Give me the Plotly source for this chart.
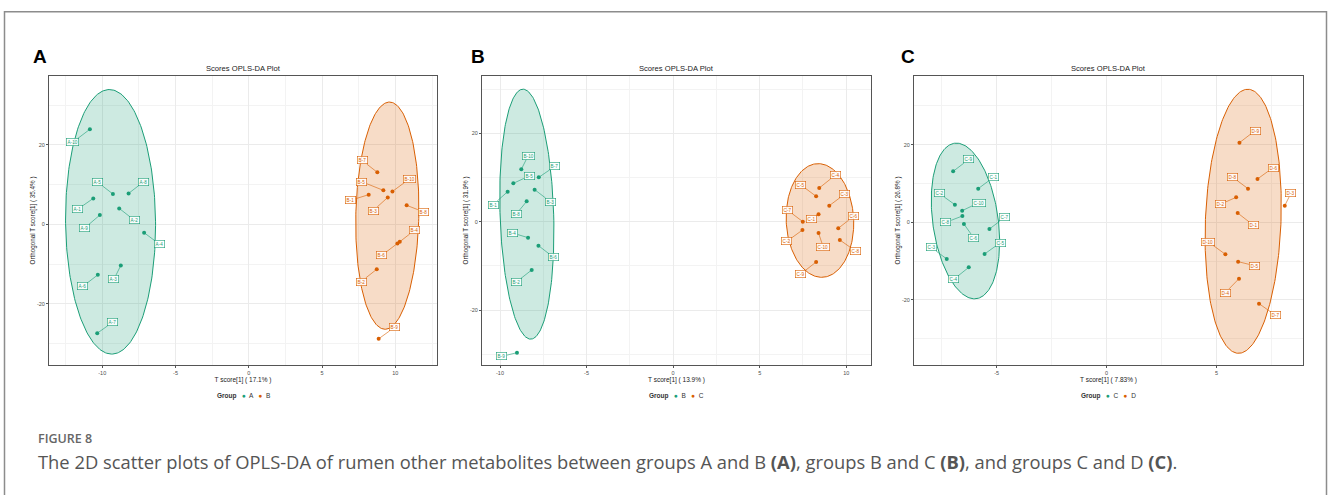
import numpy as np
import plotly.graph_objects as go

GREEN = "#1B9E77"
ORANGE = "#D95F02"
GREEN_FILL = "rgba(27,158,119,0.22)"
ORANGE_FILL = "rgba(217,95,2,0.22)"

# ---------------- data ----------------
# Panel A : groups A and B
pA_g1_names = ["A-1", "A-2", "A-3", "A-4", "A-5", "A-6", "A-7", "A-8", "A-9", "A-10"]
pA_g1_x = [-10.61, -8.84, -8.73, -7.14, -9.27, -10.30, -10.34, -8.20, -10.16, -10.84]
pA_g1_y = [6.55, 4.03, -10.34, -2.10, 7.65, -12.70, -27.40, 7.80, 2.35, 23.95]
pA_g1_lx = [-11.68, -7.82, -9.20, -6.07, -10.30, -11.32, -9.27, -7.16, -11.20, -12.00]
pA_g1_ly = [3.78, 1.09, -13.80, -5.04, 10.60, -15.60, -24.60, 10.76, -0.92, 20.70]

pA_g2_names = ["B-1", "B-2", "B-3", "B-4", "B-5", "B-6", "B-7", "B-8", "B-9", "B-10"]
pA_g2_x = [8.18, 8.73, 9.48, 10.30, 9.18, 10.14, 8.77, 10.77, 8.86, 9.80]
pA_g2_y = [7.48, -11.30, 6.80, -4.37, 8.57, -4.80, 13.10, 4.80, -28.80, 8.30]
pA_g2_lx = [6.93, 7.66, 8.48, 11.30, 7.70, 9.07, 7.73, 11.89, 9.95, 10.98]
pA_g2_ly = [6.05, -14.40, 3.45, -1.50, 10.76, -7.80, 16.10, 3.20, -25.90, 11.50]

# Panel B : groups B and C
pB_g1_names = ["B-1", "B-2", "B-3", "B-4", "B-5", "B-6", "B-7", "B-8", "B-9", "B-10"]
pB_g1_x = [-9.56, -8.17, -8.00, -8.38, -9.23, -7.78, -7.76, -8.46, -9.02, -8.77]
pB_g1_y = [6.79, -10.94, 7.25, -3.62, 8.68, -5.43, 10.04, 4.60, -29.66, 11.85]
pB_g1_lx = [-10.40, -9.07, -7.09, -9.27, -8.32, -6.90, -6.84, -9.07, -9.90, -8.38]
pB_g1_ly = [3.85, -13.70, 4.53, -2.57, 10.34, -8.08, 12.50, 1.66, -30.50, 14.87]

pB_g2_names = ["C-1", "C-2", "C-3", "C-4", "C-5", "C-6", "C-7", "C-8", "C-9", "C-10"]
pB_g2_x = [8.40, 7.47, 9.02, 8.44, 8.26, 9.54, 7.49, 9.63, 8.26, 8.40]
pB_g2_y = [1.66, -1.90, 3.62, 7.62, 5.74, -1.50, 0.00, -4.15, -9.13, -2.57]
pB_g2_lx = [8.00, 6.57, 9.92, 9.36, 7.36, 10.42, 6.60, 10.56, 7.36, 8.67]
pB_g2_ly = [0.60, -4.45, 6.26, 10.50, 8.38, 1.20, 2.64, -6.70, -11.90, -5.74]

# Panel C : groups C and D
pC_g1_names = ["C-1", "C-2", "C-3", "C-4", "C-5", "C-6", "C-7", "C-8", "C-9", "C-10"]
pC_g1_x = [-5.84, -6.90, -7.27, -6.27, -5.55, -6.49, -5.33, -6.56, -6.98, -6.57]
pC_g1_y = [8.67, 4.55, -9.44, -11.59, -8.15, -0.43, -1.72, 1.63, 13.13, 3.00]
pC_g1_lx = [-5.13, -7.62, -7.98, -6.95, -4.83, -6.05, -4.63, -7.31, -6.27, -5.81]
pC_g1_ly = [11.67, 7.47, -6.44, -14.68, -5.24, -3.95, 1.29, 0.00, 16.20, 5.06]

pC_g2_names = ["D-1", "D-2", "D-3", "D-4", "D-5", "D-6", "D-7", "D-8", "D-9", "D-10"]
pC_g2_x = [5.96, 5.89, 8.10, 6.02, 5.98, 6.86, 6.93, 6.43, 6.04, 5.40]
pC_g2_y = [2.40, 6.44, 4.29, -14.50, -10.13, 11.16, -20.94, 8.67, 20.50, -8.24]
pC_g2_lx = [6.66, 5.17, 8.38, 5.40, 6.72, 7.57, 7.68, 5.72, 6.75, 4.61]
pC_g2_ly = [-0.69, 4.64, 7.47, -18.10, -11.16, 14.08, -23.95, 11.67, 23.60, -4.98]

# confidence ellipses: centre x, centre y, half-width, half-height, shear
ellA_1 = [-9.43, 0.65, 3.07, 33.3, -0.08]
ellA_2 = [9.45, 2.20, 2.15, 28.6, 0.15]
ellB_1 = [-8.45, 1.70, 1.55, 28.3, -0.22]
ellB_2 = [8.48, 0.27, 1.95, 12.87, -0.10]
ellC_1 = [-6.42, 0.35, 1.50, 20.05, -0.41]
ellC_2 = [6.21, 0.27, 1.72, 34.0, 0.21]

x_titles = ["T score[1] ( 17.1% )", "T score[1] ( 13.9% )", "T score[1] ( 7.83% )"]
y_titles = ["Orthogonal T score[1] ( 35.4% )", "Orthogonal T score[1] ( 31.9% )",
            "Orthogonal T score[1] ( 26.8% )"]
group_pairs = [("A", "B"), ("B", "C"), ("C", "D")]
panel_letters = ["A", "B", "C"]

xtick_vals = [[-10, -5, 0, 5, 10], [-10, -5, 0, 5, 10], [-5, 0, 5]]
xtick_text = [["-10", "-5", "0", "5", "10"], ["-10", "-5", "0", "5", "10"], ["-5", "0", "5"]]
ytick_vals = [-20, 0, 20]
ytick_text = ["-20", "0", "20"]

# ---------------- layout geometry ----------------
W, H = 1328, 495
x_ranges = [[-13.63, 12.84], [-11.04, 11.43], [-8.76, 8.93]]
y_ranges = [[-35.4, 37.36], [-32.45, 32.98], [-36.74, 37.68]]
px_left = [49, 482, 914]
px_right = [437, 871, 1303]
letter_x = [32, 470, 900]
py_top, py_bot = 76, 365


def fx(px):
    return px / W


def fy(py):
    return 1 - py / H


fig = go.Figure()
annotations = []
shapes = []

panels = [
    (pA_g1_names, pA_g1_x, pA_g1_y, pA_g1_lx, pA_g1_ly,
     pA_g2_names, pA_g2_x, pA_g2_y, pA_g2_lx, pA_g2_ly, ellA_1, ellA_2),
    (pB_g1_names, pB_g1_x, pB_g1_y, pB_g1_lx, pB_g1_ly,
     pB_g2_names, pB_g2_x, pB_g2_y, pB_g2_lx, pB_g2_ly, ellB_1, ellB_2),
    (pC_g1_names, pC_g1_x, pC_g1_y, pC_g1_lx, pC_g1_ly,
     pC_g2_names, pC_g2_x, pC_g2_y, pC_g2_lx, pC_g2_ly, ellC_1, ellC_2),
]

t = np.linspace(0, 2 * np.pi, 240)

for i, p in enumerate(panels):
    (n1, x1, y1, lx1, ly1, n2, x2, y2, lx2, ly2, e1, e2) = p
    xa = "x" if i == 0 else f"x{i+1}"
    ya = "y" if i == 0 else f"y{i+1}"
    for ell, col, fill in ((e1, GREEN, GREEN_FILL), (e2, ORANGE, ORANGE_FILL)):
        cx, cy, rx, ry, sx = ell
        ex = cx + rx * np.cos(t) + sx * np.sin(t)
        ey = cy + ry * np.sin(t)
        fig.add_trace(go.Scatter(x=ex, y=ey, mode="lines", fill="toself",
                                 fillcolor=fill, line=dict(color=col, width=1),
                                 hoverinfo="skip", showlegend=False,
                                 xaxis=xa, yaxis=ya))
    g1, g2 = group_pairs[i]
    for names, xs, ys, lxs, lys, col, g in ((n1, x1, y1, lx1, ly1, GREEN, g1),
                                            (n2, x2, y2, lx2, ly2, ORANGE, g2)):
        fig.add_trace(go.Scatter(x=xs, y=ys, mode="markers", name=g,
                                 marker=dict(color=col, size=4),
                                 showlegend=False, xaxis=xa, yaxis=ya))
        for nm, px_, py_, lx, ly in zip(names, xs, ys, lxs, lys):
            annotations.append(dict(
                x=px_, y=py_, ax=lx, ay=ly, xref=xa, yref=ya, axref=xa, ayref=ya,
                text=nm, showarrow=True, arrowhead=0, arrowwidth=0.6,
                arrowcolor=col, standoff=0, startstandoff=0,
                font=dict(size=4.6, color=col, family="Liberation Sans"),
                bgcolor="rgba(255,255,255,0.85)", bordercolor=col,
                borderwidth=0.6, borderpad=1))

    x0p, x1p = fx(px_left[i]), fx(px_right[i])
    cxp = (x0p + x1p) / 2
    axis_common = dict(showline=True, mirror=True, linecolor="#555555", linewidth=1,
                       showgrid=True, gridcolor="#EBEBEB", gridwidth=1,
                       zeroline=False, ticks="outside", ticklen=2,
                       tickcolor="#555555", tickwidth=0.7,
                       tickfont=dict(size=5.5, color="#4D4D4D", family="Liberation Sans"))
    xaxis = dict(axis_common, domain=[x0p, x1p], range=x_ranges[i], anchor=ya,
                 tickmode="array", tickvals=xtick_vals[i], ticktext=xtick_text[i],
                 minor=dict(showgrid=True, gridcolor="#F3F3F3", gridwidth=0.7,
                            dtick=2.5, tick0=0, ticks=""),
                 title=dict(text=x_titles[i], standoff=0,
                            font=dict(size=6.5, color="#222222", family="Liberation Sans")))
    yaxis = dict(axis_common, domain=[fy(py_bot), fy(py_top)], range=y_ranges[i], anchor=xa,
                 tickmode="array", tickvals=ytick_vals, ticktext=ytick_text,
                 minor=dict(showgrid=True, gridcolor="#F3F3F3", gridwidth=0.7,
                            dtick=10, tick0=0, ticks=""),
                 title=dict(text=y_titles[i], standoff=0,
                            font=dict(size=6.3, color="#222222", family="Liberation Sans")))
    key = "" if i == 0 else str(i + 1)
    fig.update_layout({f"xaxis{key}": xaxis, f"yaxis{key}": yaxis})

    # plot title
    annotations.append(dict(x=cxp, y=fy(68), xref="paper", yref="paper",
                            text="Scores OPLS-DA Plot", showarrow=False,
                            font=dict(size=7.6, color="#222222", family="Liberation Sans"),
                            xanchor="center", yanchor="middle"))
    # panel letter
    annotations.append(dict(x=fx(letter_x[i]), y=fy(56.5), xref="paper", yref="paper",
                            text=f"<b>{panel_letters[i]}</b>", showarrow=False,
                            font=dict(size=19, color="#000000", family="Liberation Sans"),
                            xanchor="left", yanchor="middle", xshift=-1))
    # legend
    annotations.append(dict(
        x=cxp, y=fy(396), xref="paper", yref="paper", showarrow=False,
        text=(f"<b>Group</b>   <span style='color:{GREEN}'>●</span>  {g1}   "
              f"<span style='color:{ORANGE}'>●</span>  {g2}"),
        font=dict(size=6.5, color="#333333", family="Liberation Sans"),
        xanchor="center", yanchor="middle"))

# caption
annotations.append(dict(x=fx(36), y=fy(438), xref="paper", yref="paper", showarrow=False,
                        text="FIGURE 8", xanchor="left", yanchor="middle",
                        font=dict(size=12.5, color="#666666", family="Open Sans", weight=600)))
annotations.append(dict(
    x=fx(36), y=fy(461), xref="paper", yref="paper", showarrow=False,
    text=("The 2D scatter plots of OPLS-DA of rumen other metabolites between groups A and B "
          "<b>(A)</b>, groups B and C <b>(B)</b>, and groups C and D <b>(C)</b>."),
    xanchor="left", yanchor="middle",
    font=dict(size=18.35, color="#555555", family="Open Sans")))

# outer frame
shapes.append(dict(type="rect", xref="paper", yref="paper",
                   x0=fx(4.5), x1=fx(1326.5), y0=-0.2, y1=fy(11.7),
                   line=dict(color="#8C8C8C", width=1.5)))

fig.update_layout(width=W, height=H, margin=dict(l=0, r=0, t=0, b=0),
                  paper_bgcolor="white", plot_bgcolor="white",
                  annotations=annotations, shapes=shapes, showlegend=False)

fig.write_html("out.html",
               config={"displayModeBar": False},
               post_script="document.body.style.margin='0px';document.body.style.overflow='hidden';")
